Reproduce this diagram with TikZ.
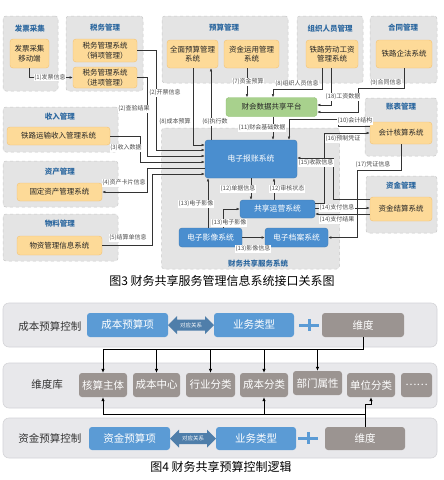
\documentclass[tikz,border=0pt]{standalone}
\usepackage{fontspec}
\setmainfont{Noto Sans CJK SC}
\usetikzlibrary{arrows.meta}
\definecolor{grpfill}{HTML}{E4E4E4}
\definecolor{grpdraw}{HTML}{C8C8C8}
\definecolor{ttlblue}{HTML}{2E69A0}
\definecolor{orgfill}{HTML}{FDDA98}
\definecolor{orgdraw}{HTML}{F4C272}
\definecolor{sysblue}{HTML}{4A8ECF}
\definecolor{grnfill}{HTML}{A8D18D}
\definecolor{grndraw}{HTML}{8DBE6E}
\definecolor{fblue}{HTML}{5B9BD5}
\definecolor{fgray}{HTML}{9B9491}
\definecolor{dblc}{HTML}{4F7EAA}
\definecolor{pnlfill}{HTML}{E8E8EB}
\definecolor{pnldraw}{HTML}{D4D4D8}
\begin{document}
\begin{tikzpicture}[x=1pt,y=-1pt,
 wh/.style 2 args={minimum width=#1pt,minimum height=#2pt},
 grp/.style={draw=grpdraw,dashed,fill=grpfill,rounded corners=3pt,line width=0.5pt,inner sep=0pt},
 ttl/.style={text=ttlblue,font=\fontsize{7.5}{9}\selectfont\bfseries,inner sep=0pt},
 ibox/.style={draw=orgdraw,fill=orgfill,rounded corners=3pt,line width=0.4pt,align=center,inner sep=0pt,font=\fontsize{7.5}{9.5}\selectfont,text=black!85},
 bbox/.style={fill=sysblue,draw=sysblue!85!black,line width=0.4pt,rounded corners=3pt,text=white,inner sep=0pt,font=\fontsize{7.8}{9}\selectfont},
 gbox/.style={fill=grnfill,draw=grndraw,line width=0.4pt,rounded corners=3pt,text=black!85,inner sep=0pt,font=\fontsize{7.5}{9}\selectfont},
 lbl/.style={fill=white,inner sep=0.6pt,text=black!70,font=\fontsize{6}{6.5}\selectfont},
 conn/.style={draw=black!80,line width=0.5pt,-{Latex[length=3.2pt,width=2.6pt]}},
 pnl/.style={fill=pnlfill,draw=pnldraw,line width=0.6pt,rounded corners=6pt,inner sep=0pt},
 rowlbl/.style={text=black!80,font=\fontsize{10.5}{12}\selectfont,inner sep=0pt},
 fbbox/.style={fill=fblue,rounded corners=3pt,text=white,inner sep=0pt,font=\fontsize{10.5}{12}\selectfont},
 fgbox/.style={fill=fgray,rounded corners=3pt,text=white,inner sep=0pt,font=\fontsize{10.5}{12}\selectfont},
 dbltxt/.style={text=white,inner sep=0pt,font=\fontsize{5.5}{6}\selectfont},
 ln4/.style={draw=black,line width=0.7pt},
 arr4/.style={draw=black,line width=0.7pt,-{Latex[length=4pt,width=3.5pt]}},
 plusc/.style={draw=fblue,line width=3pt},
 captxt/.style={text=black,font=\fontsize{12}{14}\selectfont,inner sep=0pt}
]
\useasboundingbox (0,0) rectangle (444,480);
\fill[white] (0,0) rectangle (444,480);

% ---------- Figure 3 groups ----------
\node[grp,wh={55}{75}] (g1) at (30.5,53.5) {};
\node[grp,wh={77}{75}] (g2) at (104.5,53.5) {};
\node[grp,wh={126}{67}] (g3) at (225,49.5) {};
\node[grp,wh={66}{67}] (g4) at (330,49.5) {};
\node[grp,wh={67}{67}] (g5) at (403.5,49.5) {};
\node[grp,wh={115}{45}] (g6) at (60.5,129.5) {};
\node[grp,wh={115}{46}] (g7) at (60.5,184) {};
\node[grp,wh={115}{47}] (g8) at (60.5,237.5) {};
\node[grp,wh={178}{141}] (g9) at (250.5,198.5) {};
\node[grp,wh={72}{58}] (g10) at (401,127) {};
\node[grp,wh={71}{57}] (g11) at (401.5,204.5) {};

\node[ttl] (t1) at (30,29) {发票采集};
\node[ttl] (t2) at (105,28) {税务管理};
\node[ttl] (t3) at (224,28) {预算管理};
\node[ttl] (t4) at (330,29) {组织人员管理};
\node[ttl] (t5) at (403,28) {合同管理};
\node[ttl] (t6) at (60,117) {收入管理};
\node[ttl] (t7) at (60,172) {资产管理};
\node[ttl] (t8) at (60,224) {物料管理};
\node[ttl] (t9) at (258,264) {财务共享服务系统};
\node[ttl] (t10) at (401,107) {账表管理};
\node[ttl] (t11) at (401,186) {资金管理};

% ---------- inner systems ----------
\node[ibox,wh={39}{29}] (fpyd) at (29.5,53.5) {发票采集\\移动端};
\node[ibox,wh={64}{23}] (swxx) at (105,50.5) {税务管理系统\\（销项管理）};
\node[ibox,wh={64}{21}] (swjx) at (105,77.5) {税务管理系统\\（进项管理）};
\node[ibox,wh={51}{28}] (qmys) at (192.5,54) {全面预算管理\\系统};
\node[ibox,wh={55}{28}] (zjyy) at (251.5,54) {资金运用管理\\系统};
\node[ibox,wh={52}{28}] (ldgz) at (332,54) {铁路劳动工资\\管理系统};
\node[ibox,wh={56}{28}] (qf) at (404,54) {铁路企法系统};
\node[ibox,wh={103}{18}] (srgl) at (58.5,136) {铁路运输收入管理系统};
\node[ibox,wh={85}{18}] (gdzc) at (59.5,192) {固定资产管理系统};
\node[ibox,wh={85}{19}] (wzgl) at (59.5,245.5) {物资管理信息系统};
\node[ibox,wh={62}{22}] (kjhs) at (401,133) {会计核算系统};
\node[ibox,wh={62}{24}] (zjjs) at (401,209) {资金结算系统};

\node[gbox,wh={91}{19}] (ckpt) at (271.5,107) {财会数据共享平台};
\node[bbox,wh={92}{38}] (dzbz) at (251,159) {电子报账系统};
\node[bbox,wh={75}{18}] (gxyy) at (277.5,209) {共享运营系统};
\node[bbox,wh={63}{19}] (dzyx) at (210.5,237.5) {电子影像系统};
\node[bbox,wh={63}{19}] (dzda) at (296.5,237.5) {电子档案系统};

% ---------- connectors ----------
\draw[conn] (fpyd.south) |- (swjx.west);
\draw[conn] (swxx.east) -| (156,150) -- (dzbz.west |- 0,150);
\draw[conn] (swjx.east) -| (147,156) -- (dzbz.west |- 0,156);
\draw[conn] (srgl.east) -| (140,162) -- (dzbz.west |- 0,162);
\draw[conn] (dzbz.west |- 0,168) -| (147,192) -- (gdzc.east);
\draw[conn] (wzgl.east) -| (152,174) -- (dzbz.west |- 0,174);
\draw[conn] (dzbz.north -| 211,0) -- (qmys.south -| 211,0);
\draw[conn] (qmys.south -| 193,0) |- (dzbz.west |- 0,145);
\draw[conn] (zjyy.south -| 247,0) -- (ckpt.north -| 247,0);
\draw[conn] (ldgz.south -| 322,0) |- (273,89) -- (ckpt.north -| 273,0);
\draw[conn] (ldgz.south -| 331,0) |- (ckpt.east |- 0,105);
\draw[conn] (qf.south) |- (358,88) |- (ckpt.east |- 0,112);
\draw[conn] (kjhs.west |- 0,126) -| (338,119) -| (dzbz.north -| 289,0);
\draw[conn] (ckpt.south -| 273,0) -- (dzbz.north -| 273,0);
\draw[conn] (dzbz.south -| 251,0) -- (gxyy.north -| 251,0);
\draw[conn] (gxyy.north -| 274,0) -- (dzbz.south -| 274,0);
\draw[conn] (dzyx.north -| 208,0) -- (dzbz.south -| 208,0);
\draw[conn] (dzyx.north -| 223,0) |- (gxyy.west);
\draw[conn] (dzyx.east) -- (dzda.west);
\draw[conn] (gxyy.east |- 0,208) -- (zjjs.west |- 0,208);
\draw[conn] (zjjs.west |- 0,214) -- (gxyy.east |- 0,214);
\draw[conn] (zjjs.west |- 0,199) -| (333,158) -- (dzbz.east |- 0,158);
\draw[conn] (gxyy.east |- 0,203) -| (324,133) -- (kjhs.west |- 0,133);
\draw[conn] (kjhs.south) |- (357,170) |- (dzda.east);

% ---------- connector labels ----------
\node[lbl] (l1) at (50,77.5) {(1)发票信息};
\node[lbl] (l2a) at (165,93) {(2)开票信息};
\node[lbl] (l2b) at (134,109) {(2)查验结果};
\node[lbl] (l3) at (126,148) {(3)收入数据};
\node[lbl] (l4) at (124,183) {(4)资产卡片信息};
\node[lbl] (l5) at (128,238) {(5)结算单信息};
\node[lbl] (l6) at (215,122) {(6)执行数};
\node[lbl] (l8) at (175,122) {(8)成本预算};
\node[lbl] (l7) at (248,82) {(7)资金预算};
\node[lbl] (l8b) at (297,84) {(8)组织人员信息};
\node[lbl] (l18) at (343,97) {(18)工资数据};
\node[lbl] (l9) at (386,83) {(9)合同信息};
\node[lbl] (l10) at (355,121) {(10)会计结构};
\node[lbl] (l11) at (262,128) {(11)财会基础数据};
\node[lbl] (l12a) at (238,189) {(12)单据信息};
\node[lbl] (l12b) at (287,189) {(12)审核状态};
\node[lbl] (l13a) at (196,204) {(13)电子影像};
\node[lbl] (l13b) at (229,223) {(13)电子影像};
\node[lbl] (l13c) at (253,249) {(13)影像信息};
\node[lbl] (l14a) at (337,208) {(14)支付信息};
\node[lbl] (l14b) at (337,220) {(14)支付结果};
\node[lbl] (l15) at (316,163) {(15)收款信息};
\node[lbl] (l16) at (343,139) {(16)预制凭证};
\node[lbl] (l17) at (373,165) {(17)凭证信息};

\node[captxt] (cap3) at (222,281) {图3 财务共享服务管理信息系统接口关系图};

% ---------- Figure 4 ----------
\node[pnl,wh={434}{44}] (p1) at (220,325) {};
\node[pnl,wh={434}{45}] (p2) at (220,385.5) {};
\node[pnl,wh={434}{40}] (p3) at (220,438) {};

\node[rowlbl] (r1) at (50,327) {成本预算控制};
\node[rowlbl] (r2) at (47,385) {维度库};
\node[rowlbl] (r3) at (50,438) {资金预算控制};

\node[fbbox,wh={81}{24}] (b1) at (127.5,325) {成本预算项};
\node[fbbox,wh={80}{24}] (b2) at (254,325) {业务类型};
\node[fgbox,wh={82}{24}] (b3) at (363,325) {维度};
\fill[dblc] (168,325) -- (177,316) -- (177,319.5) -- (205,319.5) -- (205,316) -- (214,325) -- (205,334) -- (205,330.5) -- (177,330.5) -- (177,334) -- cycle;
\node[dbltxt] (d1) at (191,325) {对应关系};
\draw[plusc] (299,325) -- (319,325) (309,319) -- (309,331);

\node[fgbox,wh={48}{24}] (k1) at (103,385) {核算主体};
\node[fgbox,wh={47}{24}] (k2) at (156.5,385) {成本中心};
\node[fgbox,wh={49}{24}] (k3) at (210.5,385) {行业分类};
\node[fgbox,wh={48}{24}] (k4) at (264,385) {成本分类};
\node[fgbox,wh={49}{24}] (k5) at (317.5,383) {部门属性};
\node[fgbox,wh={48}{24}] (k6) at (371,385) {单位分类};
\node[fgbox,wh={31}{24}] (k7) at (416.5,385) {……};

\node[fbbox,wh={81}{23}] (c1) at (129.5,438.5) {资金预算项};
\node[fbbox,wh={80}{23}] (c2) at (256,438.5) {业务类型};
\node[fgbox,wh={80}{23}] (c3) at (365,438.5) {维度};
\fill[dblc] (170,438.5) -- (179,429.5) -- (179,433) -- (207,433) -- (207,429.5) -- (216,438.5) -- (207,447.5) -- (207,444) -- (179,444) -- (179,447.5) -- cycle;
\node[dbltxt] (d2) at (193,438.5) {对应关系};
\draw[plusc] (298,438) -- (318,438) (308,432) -- (308,444);

\draw[ln4] (b3.south) |- (k1.north |- 0,349);
\draw[arr4] (k1.north |- 0,349) -- (k1.north);
\draw[arr4] (k2.north |- 0,349) -- (k2.north);
\draw[arr4] (k3.north |- 0,349) -- (k3.north);
\draw[arr4] (k4.north |- 0,349) -- (k4.north);
\draw[arr4] (k5.north |- 0,349) -- (k5.north);

\draw[ln4] (c3.north |- 0,414) -- (k1.south |- 0,414);
\draw[arr4] (c3.north) |- (k6.south |- 0,404) -- (k6.south);
\draw[arr4] (k1.south |- 0,414) -- (k1.south);
\draw[arr4] (k4.south |- 0,414) -- (k4.south);

\node[captxt] (cap4) at (221,467) {图4 财务共享预算控制逻辑};
\end{tikzpicture}
\end{document}
